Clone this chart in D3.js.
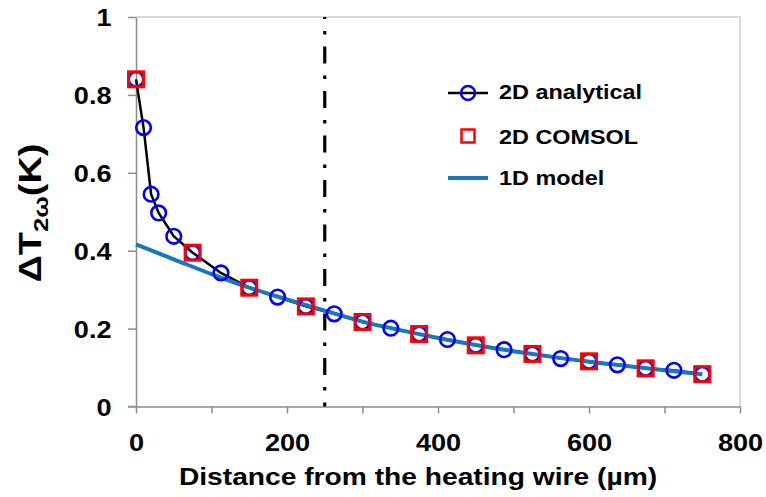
<!DOCTYPE html>
<html><head><meta charset="utf-8">
<script src="https://cdn.jsdelivr.net/npm/d3@7"></script>
<style>
html,body{margin:0;padding:0;background:#fff;}
svg{display:block;font-family:"Liberation Sans",Arial,sans-serif;font-weight:bold;}
</style></head>
<body><svg id="c" width="766" height="497"></svg>
<script>
// ---- data ----
const analyticalX = [0,10,20,30,50,75,112.5,150,187.5,225,262.5,300,337.5,375,412.5,450,487.5,525,562.5,600,637.5,675,712.5,750];
const analyticalY = [0.84,0.716,0.545,0.497,0.437,0.395,0.343,0.305,0.281,0.257,0.238,0.217,0.201,0.186,0.172,0.157,0.146,0.135,0.123,0.116,0.107,0.098,0.093,0.083];
const comsolX = [0,75,150,225,300,375,450,525,600,675,750];
const comsolY = [0.84,0.395,0.305,0.257,0.217,0.186,0.157,0.135,0.116,0.098,0.083];
const model1dX = [0,50,100,150,200,250,300,350,400,450,500,550,600,650,700,750];
const model1dY = [0.416,0.378,0.340,0.305,0.275,0.246,0.218,0.196,0.176,0.158,0.142,0.128,0.115,0.104,0.093,0.083];
const xTicks = [0,100,200,300,400,500,600,700,800];
const xTickLabels = ["0","","200","","400","","600","","800"];
const yTicks = [0,0.2,0.4,0.6,0.8,1];
const yTickLabels = ["0","0.2","0.4","0.6","0.8","1"];
const markerLineX = 250;
const seriesNames = ["2D analytical","2D COMSOL","1D model"];
const xTitle = "Distance from the heating wire (\u00b5m)";

const SX = 1.2; // horizontal text stretch of the original figure
const svg = d3.select("#c");
const x = d3.scaleLinear().domain([0,800]).range([136,740]);
const y = d3.scaleLinear().domain([0,1]).range([406.5,17]);
const axisCol = "#8c8c8c", frameCol = "#d9d9d9";
const blue1d = "#1878be";

// frame (top/right)
svg.append("path").attr("d",`M${x(0)},${y(1)}H${x(800)}V${y(0)}`)
  .attr("fill","none").attr("stroke",frameCol).attr("stroke-width",2);

// y axis
const ya = svg.append("g").attr("transform",`translate(${x(0)},0)`)
  .call(d3.axisLeft(y).tickValues(yTicks).tickSize(8).tickSizeOuter(0)
        .tickFormat((d,i)=>yTickLabels[i]));
// x axis
const xa = svg.append("g").attr("transform",`translate(0,${y(0)})`)
  .call(d3.axisBottom(x).tickValues(xTicks).tickSize(7).tickSizeOuter(0)
        .tickFormat((d,i)=>xTickLabels[i]));
const TS = 1.13;
[ya,xa].forEach(g=>{
  g.select(".domain").attr("stroke",axisCol).attr("stroke-width",1.5);
  g.selectAll(".tick line").attr("stroke",axisCol).attr("stroke-width",1.5);
  g.selectAll("text").attr("fill","#000").style("font-size","24px")
   .style("font-family","'Liberation Sans',Arial,sans-serif").style("font-weight","bold");
});
ya.selectAll(".tick text").attr("x",-(136-111.5)/TS).attr("dy",null).attr("y",8.6)
  .attr("transform",`scale(${TS},1)`);
xa.selectAll(".tick text").attr("y",45).attr("dy",null)
  .attr("transform",`scale(${TS},1)`);
// extend x domain line left to meet y tick at 0
xa.append("line").attr("x1",128).attr("x2",136).attr("stroke",axisCol).attr("stroke-width",1.5);

// dash-dot vertical line
svg.append("line").attr("x1",x(markerLineX)).attr("x2",x(markerLineX))
  .attr("y1",y(1)).attr("y2",y(0))
  .attr("stroke","#000").attr("stroke-width",3.2)
  .attr("stroke-dasharray","17,12,3.5,12").attr("stroke-dashoffset",-29.5);

// series lines
const ana = analyticalX.map((v,i)=>[v,analyticalY[i]]);
const com = comsolX.map((v,i)=>[v,comsolY[i]]);
const mod = model1dX.map((v,i)=>[v,model1dY[i]]);
const line = d3.line().x(d=>x(d[0])).y(d=>y(d[1]));
svg.append("path").datum(ana).attr("d",line).attr("fill","none")
  .attr("stroke","#000").attr("stroke-width",2.5);
svg.append("path").datum(mod).attr("d",line.curve(d3.curveMonotoneX)).attr("fill","none")
  .attr("stroke",blue1d).attr("stroke-width",4);

// circles
svg.append("g").selectAll("circle").data(ana).join("circle")
  .attr("cx",d=>x(d[0])).attr("cy",d=>y(d[1])).attr("r",7.3)
  .attr("fill","none").attr("stroke","#0000ff").attr("stroke-width",2.6);
// squares
const sq = 15;
svg.append("g").selectAll("rect").data(com).join("rect")
  .attr("x",d=>x(d[0])-sq/2).attr("y",d=>y(d[1])-sq/2).attr("width",sq).attr("height",sq)
  .attr("fill","none").attr("stroke","#ff0000").attr("stroke-width",3);

// text helper
function txt(xp,yp,s,size,anchor){
  return svg.append("text").attr("transform",`translate(${xp},${yp}) scale(${SX},1)`)
    .attr("text-anchor",anchor||"start").style("font-size",size+"px").attr("fill","#000").text(s);
}

// legend
const lg = svg.append("g");
lg.append("line").attr("x1",448).attr("x2",488).attr("y1",93).attr("y2",93).attr("stroke","#000").attr("stroke-width",2.5);
lg.append("circle").attr("cx",468).attr("cy",93).attr("r",7).attr("fill","none").attr("stroke","#0000ff").attr("stroke-width",2.5);
lg.append("rect").attr("x",461.5).attr("y",129.5).attr("width",13).attr("height",13).attr("fill","none").attr("stroke","#ff0000").attr("stroke-width",2.5);
lg.append("line").attr("x1",448).attr("x2",488).attr("y1",178).attr("y2",178).attr("stroke",blue1d).attr("stroke-width",4);
txt(499,99,seriesNames[0],19.5);
txt(499,143.5,seriesNames[1],19.5);
txt(499,184.5,seriesNames[2],19.5);

// x title
txt(418,485,xTitle,23.5,"middle");

// y title
const yt = svg.append("g").attr("transform",`translate(41,213) rotate(-90) scale(1.22,1)`)
  .append("text").attr("text-anchor","middle").style("font-size","31px").attr("fill","#000");
yt.append("tspan").text("\u0394T");
yt.append("tspan").attr("dy",7).style("font-size","21px").text("2\u03c9");
yt.append("tspan").attr("dy",-7).text("(K)");
</script></body></html>
